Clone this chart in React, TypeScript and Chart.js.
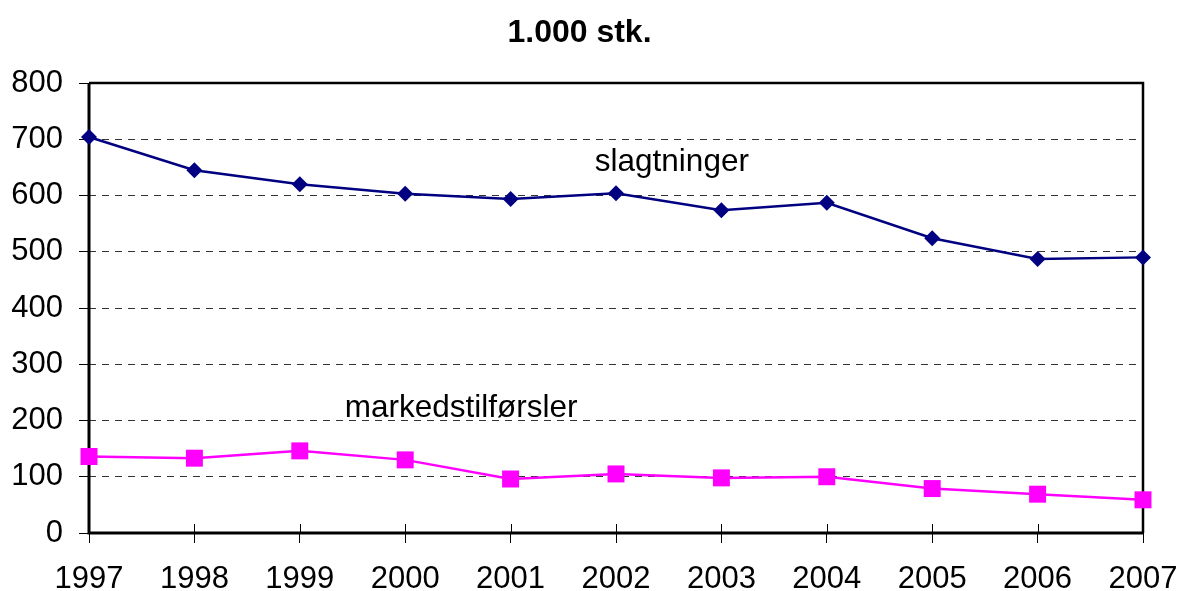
import React, { useEffect, useRef } from "react";
import { Chart, registerables } from "chart.js";

Chart.register(...registerables);

const years = ["1997", "1998", "1999", "2000", "2001", "2002", "2003", "2004", "2005", "2006", "2007"];
const slagtninger = [704, 645, 620, 603, 594, 604, 574, 587, 524, 487, 490];
const markedstilforsler = [136, 133, 146, 130, 96, 105, 98, 100, 79, 69, 59];
const yTicks = [0, 100, 200, 300, 400, 500, 600, 700, 800];
const titleText = "1.000 stk.";
// annotation labels: text, x (category index), y value (baseline)
const annotationTexts = ["slagtninger", "markedstilførsler"];
const annotationX = [5.53, 3.53];
const annotationY = [643, 206];

const FONT = "'Liberation Sans', Arial, sans-serif";

const framePlugin = {
  id: "frame",
  afterLayout(chart: any) {
    // let the y tick labels use the space left of the axis box
    chart.scales.y.left = 0;
  },
  beforeDatasetsDraw(chart: any) {
    const { ctx, chartArea } = chart;
    const { left, right, top, bottom } = chartArea;
    ctx.save();
    ctx.strokeStyle = "#000";
    ctx.setLineDash([]);
    ctx.lineWidth = 2.5;
    ctx.beginPath();
    ctx.moveTo(left, top);
    ctx.lineTo(right, top);
    ctx.lineTo(right, bottom);
    ctx.stroke();
    ctx.lineWidth = 3;
    ctx.beginPath();
    ctx.moveTo(left, top);
    ctx.lineTo(left, bottom);
    ctx.lineTo(right, bottom);
    ctx.stroke();
    const xs = chart.scales.x;
    ctx.lineWidth = 1;
    for (let i = 0; i < years.length; i++) {
      const px = Math.round(xs.getPixelForValue(i)) + 0.5;
      ctx.beginPath();
      ctx.moveTo(px, bottom - 9);
      ctx.lineTo(px, bottom);
      ctx.stroke();
    }
    ctx.restore();
  },
  afterDraw(chart: any) {
    const { ctx } = chart;
    const xs = chart.scales.x;
    const ys = chart.scales.y;
    ctx.save();
    ctx.fillStyle = "#000";
    ctx.font = `31.5px ${FONT}`;
    ctx.textAlign = "center";
    ctx.textBaseline = "alphabetic";
    for (let i = 0; i < annotationTexts.length; i++) {
      ctx.fillText(annotationTexts[i], xs.getPixelForValue(annotationX[i]), ys.getPixelForValue(annotationY[i]));
    }
    ctx.restore();
  },
};

export default function App() {
  const ref = useRef<HTMLCanvasElement>(null);
  useEffect(() => {
    document.body.style.margin = "0";
    const chart = new Chart(ref.current!, {
      type: "line",
      data: {
        labels: years,
        datasets: [
          {
            label: "slagtninger",
            data: slagtninger,
            borderColor: "#000080",
            backgroundColor: "#000080",
            borderWidth: 2.5,
            pointStyle: "rectRot",
            pointRadius: 8,
            pointBorderWidth: 0,
            pointBackgroundColor: "#000080",
            tension: 0,
            clip: false as any,
          },
          {
            label: "markedstilførsler",
            data: markedstilforsler,
            borderColor: "#FF00FF",
            backgroundColor: "#FF00FF",
            borderWidth: 2.5,
            pointStyle: "rect",
            pointRadius: 12,
            pointBorderWidth: 0,
            pointBackgroundColor: "#FF00FF",
            tension: 0,
            clip: false as any,
          },
        ],
      },
      options: {
        responsive: false,
        animation: false,
        layout: { padding: { left: 16, right: 39, top: 0, bottom: 0 } },
        plugins: {
          legend: { display: false },
          tooltip: { enabled: false },
          title: {
            display: true,
            text: titleText,
            color: "#000",
            font: { family: FONT, size: 32, weight: "bold", lineHeight: 1.2 },
            padding: { top: 14, bottom: 30.6 },
          },
        },
        scales: {
          x: {
            type: "category",
            offset: false,
            afterFit(scale: any) {
              scale.height = 58;
              scale.paddingLeft = 0;
              scale.paddingRight = 0;
            },
            grid: {
              display: true,
              drawOnChartArea: false,
              drawTicks: true,
              tickLength: 10,
              color: "#000",
              tickColor: "#000",
              lineWidth: 1,
            },
            border: { display: false },
            ticks: {
              color: "#000",
              font: { family: FONT, size: 31 },
              padding: 18,
              maxRotation: 0,
              autoSkip: false,
            },
          },
          y: {
            min: 0,
            max: 800,
            afterFit(scale: any) {
              scale.width = 73;
              scale.paddingTop = 0;
              scale.paddingBottom = 0;
            },
            afterBuildTicks(scale: any) {
              scale.ticks = yTicks.map((v) => ({ value: v }));
            },
            grid: {
              display: true,
              drawOnChartArea: true,
              drawTicks: true,
              tickLength: 10,
              color: "#333",
              tickColor: "#000",
              tickBorderDash: [],
              lineWidth: 1,
            },
            border: { display: false, dash: [7, 6] },
            ticks: {
              color: "#000",
              font: { family: FONT, size: 31 },
              padding: 16,
            },
          },
        },
      } as any,
      plugins: [framePlugin],
    });
    return () => chart.destroy();
  }, []);
  return (
    <div style={{ position: "absolute", left: 0, top: 0, width: 1182, height: 591 }}>
      <canvas ref={ref} width={1182} height={591} />
    </div>
  );
}
